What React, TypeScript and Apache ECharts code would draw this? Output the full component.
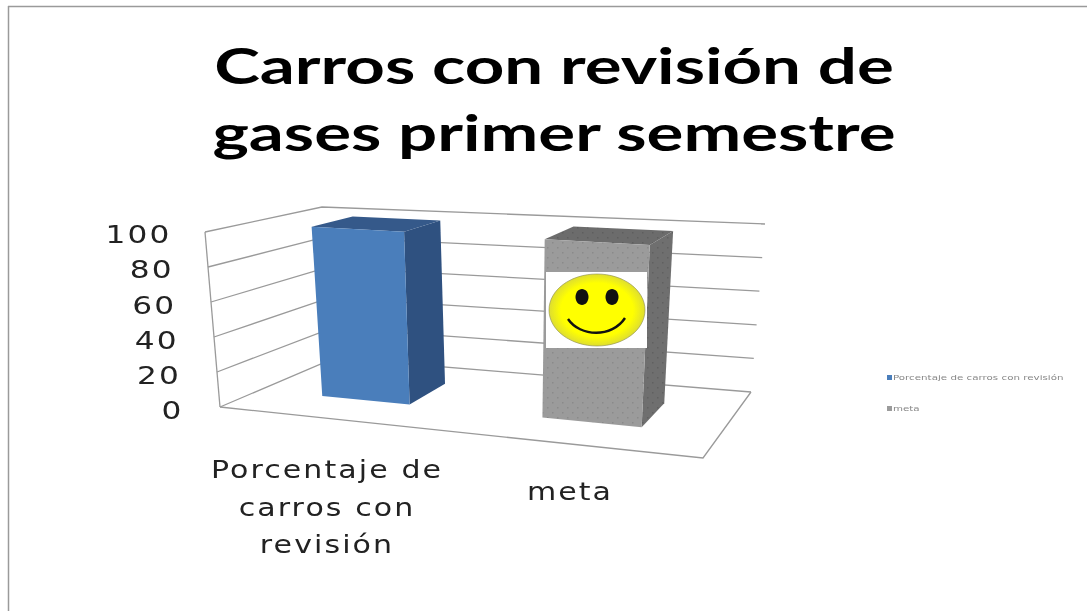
import React, { useEffect, useRef } from "react";
import * as echarts from "echarts";

const titleText = "Carros con revisión de\ngases primer semestre";
const categories = ["Porcentaje de\ncarros con\nrevisión", "meta"];
const seriesNames = ["Porcentaje de carros con revisión", "meta"];
const percentValues = [100];
const metaValues = [100];
const yTicks = [0, 20, 40, 60, 80, 100];

// Corners of the drawn 3D box: [front-left, front-right, back-left, back-right]
const FLOOR = [[220, 407], [703, 458], [335, 358], [751, 392]];
const CEIL = [[205, 232], [715, 263], [322, 207], [765, 224]];
const GRID = { left: 203.5, right: 1087 - 689.5, top: 235, bottom: 611 - 411 };
const D0 = 0.35;
const D1 = 0.73;

function lerp(a: number, b: number, t: number) {
  return a + (b - a) * t;
}
function plane(c: number[][], u: number, d: number) {
  return [0, 1].map((i) =>
    lerp(lerp(c[0][i], c[1][i], u), lerp(c[2][i], c[3][i], u), d)
  );
}
function project(u: number, v: number, d: number) {
  const a = plane(FLOOR, u, d);
  const b = plane(CEIL, u, d);
  return [lerp(a[0], b[0], v), lerp(a[1], b[1], v)];
}

function dotted(base: string, dot: string) {
  const c = document.createElement("canvas");
  c.width = 10;
  c.height = 10;
  const g = c.getContext("2d")!;
  g.fillStyle = base;
  g.fillRect(0, 0, 10, 10);
  g.fillStyle = dot;
  g.fillRect(2, 2, 1.5, 1.5);
  g.fillRect(7, 7, 1.5, 1.5);
  return { image: c, repeat: "repeat" } as any;
}

function barRenderer(shift: number, half: number, front: any, side: any, top: any) {
  return (params: any, api: any) => {
    const cs = params.coordSys;
    const pt = api.coord([api.value(0), api.value(1)]);
    const base = api.coord([api.value(0), 0]);
    const uc = (pt[0] - cs.x) / cs.width + shift;
    const v = (base[1] - pt[1]) / cs.height;
    const u0 = uc - half;
    const u1 = uc + half;
    const poly = (points: number[][], fill: any) => ({
      type: "polygon",
      shape: { points },
      style: { fill, stroke: null },
    });
    return {
      type: "group",
      children: [
        poly(
          [project(u1, 0, D0), project(u1, 0, D1), project(u1, v, D1), project(u1, v, D0)],
          side
        ),
        poly(
          [project(u0, v, D0), project(u1, v, D0), project(u1, v, D1), project(u0, v, D1)],
          top
        ),
        poly(
          [project(u0, 0, D0), project(u1, 0, D0), project(u1, v, D0), project(u0, v, D0)],
          front
        ),
      ],
    };
  };
}

function wallRenderer(params: any, api: any) {
  const cs = params.coordSys;
  const y = api.coord([0, api.value(1)])[1];
  const v = (cs.y + cs.height - y) / cs.height;
  const line = { stroke: "#9a9a9a", lineWidth: 1.3, fill: null };
  const children: any[] = [
    {
      type: "polyline",
      shape: { points: [project(0, v, 0), project(0, v, 1), project(1, v, 1)] },
      style: line,
    },
  ];
  if (v === 0) {
    children.push(
      {
        type: "polyline",
        shape: { points: [project(0, 0, 0), project(1, 0, 0), project(1, 0, 1)] },
        style: line,
      },
      {
        type: "line",
        shape: {
          x1: project(0, 0, 0)[0],
          y1: project(0, 0, 0)[1],
          x2: project(0, 1, 0)[0],
          y2: project(0, 1, 0)[1],
        },
        style: line,
      }
    );
  }
  return { type: "group", children };
}

// The reference is a horizontally stretched bitmap: widen each text about its own anchor.
function stretchTexts(root: HTMLElement) {
  root.querySelectorAll("svg text").forEach((node) => {
    const el = node as SVGTextElement;
    const size = parseFloat(getComputedStyle(el).fontSize);
    const content = (el.textContent || "").trim();
    const isTick = /^\d+$/.test(content);
    let scale = 1.25;
    let dx = 2;
    if (size >= 40) {
      scale = 1.38;
      dx = 0;
    } else if (size < 10) {
      scale = 1.47;
      dx = -4;
    } else {
      el.style.letterSpacing = "0.07em";
      if (isTick) {
        scale = 1.3;
        dx = -0.12 * Number(content);
      }
    }
    const x = parseFloat(el.getAttribute("x") || "0") || 0;
    const m = el.getAttribute("transform") || "";
    el.setAttribute(
      "transform",
      `${m} translate(${x + dx} 0) scale(${scale} 1) translate(${-x} 0)`
    );
  });
}

export default function App() {
  const ref = useRef<HTMLDivElement>(null);
  useEffect(() => {
    const chart = echarts.init(ref.current!, null, { renderer: "svg" });
    const blue = "#4a7ebb";
    const gray = "#9b9b9b";
    const Z = 100;
    chart.setOption({
      animation: false,
      backgroundColor: "#ffffff",
      title: {
        text: titleText,
        left: 549,
        top: 26,
        textAlign: "center",
        textStyle: {
          fontFamily: "Lato",
          fontWeight: "bold",
          fontSize: 50,
          lineHeight: 67.5,
          color: "#000000",
        },
      },
      legend: {
        orient: "vertical",
        left: 882,
        top: 369,
        itemWidth: 5,
        itemHeight: 5,
        itemGap: 24,
        data: seriesNames,
        icon: "rect",
        textStyle: { fontFamily: "'DejaVu Sans'", fontSize: 7, color: "#888888" },
      },
      grid: GRID,
      xAxis: {
        type: "category",
        data: [
          categories[0],
          { value: categories[1], textStyle: { padding: [22, 0, 0, 0] } },
        ],
        axisLine: { show: false },
        axisTick: { show: false },
        splitLine: { show: false },
        axisLabel: {
          interval: 0,
          margin: 40,
          fontFamily: "'DejaVu Sans'",
          fontSize: 24,
          lineHeight: 37.5,
          color: "#222222",
        },
      },
      yAxis: {
        type: "value",
        min: 0,
        max: 100,
        interval: 20,
        axisLine: { show: false },
        axisTick: { show: false },
        splitLine: { show: false },
        axisLabel: {
          margin: 20,
          fontFamily: "'DejaVu Sans'",
          fontSize: 24,
          color: "#222222",
        },
      },
      series: [
        {
          type: "custom",
          name: "walls",
          silent: true,
          z: 1,
          clip: false,
          renderItem: wallRenderer,
          data: yTicks.map((t) => [0, t]),
        },
        {
          type: "custom",
          name: seriesNames[0],
          z: 2,
          clip: false,
          itemStyle: { color: blue },
          renderItem: barRenderer(-0.02, 0.095, blue, "#2f5180", "#35598a"),
          data: percentValues.map((v) => [0, v]),
        },
        {
          type: "custom",
          name: seriesNames[1],
          z: 3,
          clip: false,
          itemStyle: { color: gray },
          renderItem: barRenderer(
            -0.028,
            0.108,
            dotted(gray, "#8a8a8a"),
            dotted("#6f6f6f", "#606060"),
            dotted("#6c6c6c", "#5e5e5e")
          ),
          data: metaValues.map((v) => [1, v]),
        },
      ],
      graphic: [
        { type: "line", z: Z, shape: { x1: 8, y1: 6.5, x2: 1087, y2: 6.5 }, style: { stroke: "#9a9a9a", lineWidth: 1.5 } },
        { type: "line", z: Z, shape: { x1: 8.5, y1: 6, x2: 8.5, y2: 611 }, style: { stroke: "#9a9a9a", lineWidth: 1.5 } },
        { type: "rect", z: Z, shape: { x: 546, y: 272, width: 101, height: 76 }, style: { fill: "#ffffff" } },
        {
          type: "ellipse",
          z: Z + 1,
          shape: { cx: 597, cy: 310, rx: 48, ry: 36 },
          style: {
            fill: new echarts.graphic.RadialGradient(0.5, 0.5, 0.5, [
              { offset: 0, color: "#ffff00" },
              { offset: 0.75, color: "#ffff00" },
              { offset: 1, color: "#dede30" },
            ]),
            stroke: "#8a8a50",
            lineWidth: 0.6,
          },
        },
        { type: "ellipse", z: Z + 2, shape: { cx: 582, cy: 297, rx: 6.5, ry: 8 }, style: { fill: "#111111" } },
        { type: "ellipse", z: Z + 2, shape: { cx: 612, cy: 297, rx: 6.5, ry: 8 }, style: { fill: "#111111" } },
        {
          type: "bezierCurve",
          z: Z + 2,
          shape: { x1: 568, y1: 319, cpx1: 580, cpy1: 337, cpx2: 612, cpy2: 338, x2: 625, y2: 318 },
          style: { stroke: "#111111", lineWidth: 2.4, fill: null },
        },
      ],
    });
    stretchTexts(ref.current!);
    return () => chart.dispose();
  }, []);
  return (
    <>
      <style>{`html,body{margin:0;overflow:hidden;background:#fff}`}</style>
      <div
        ref={ref}
        style={{ position: "fixed", left: 0, top: 0, width: 1087, height: 611, filter: "blur(0.6px)" }}
      />
    </>
  );
}
